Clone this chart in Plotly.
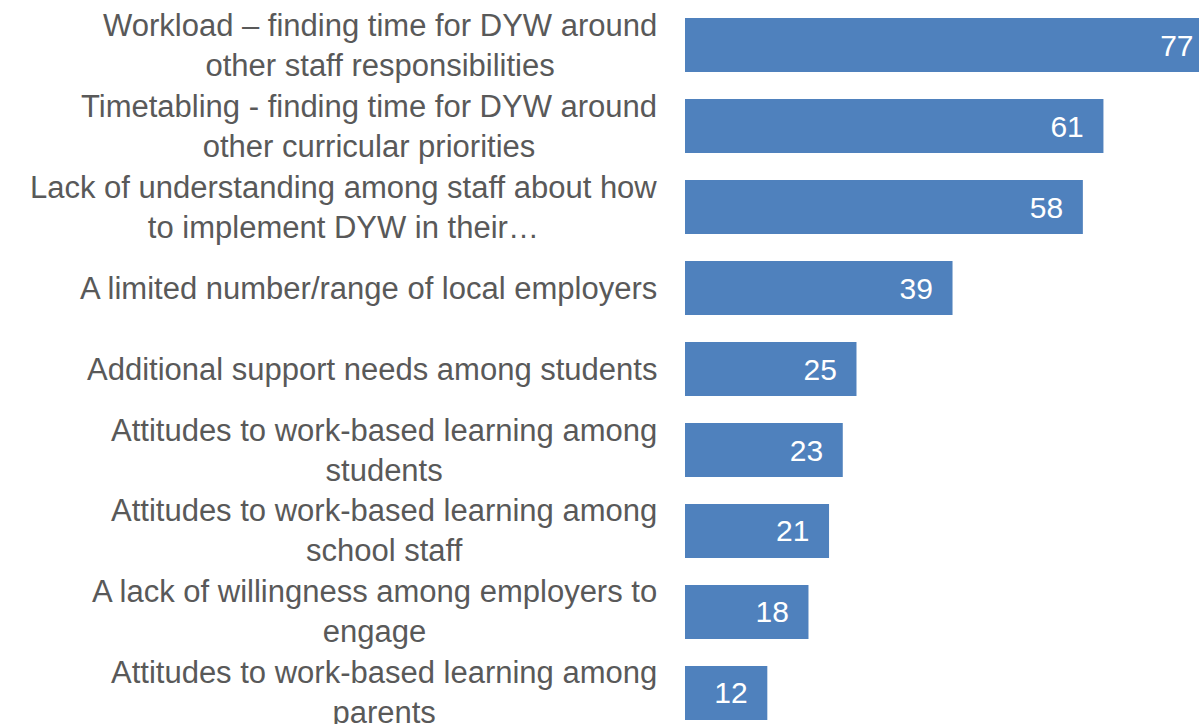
import plotly.graph_objects as go

# Barriers to delivering DYW, ranked by number of responses
categories = [
    "Workload – finding time for DYW around<br>other staff responsibilities",
    "Timetabling - finding time for DYW around<br>other curricular priorities",
    "Lack of understanding among staff about how<br>to implement DYW in their…",
    "A limited number/range of local employers",
    "Additional support needs among students",
    "Attitudes to work-based learning among<br>students",
    "Attitudes to work-based learning among<br>school staff",
    "A lack of willingness among employers to<br>engage",
    "Attitudes to work-based learning among<br>parents",
]
values = [77, 61, 58, 39, 25, 23, 21, 18, 12]

BAR_COLOR = "#4F81BD"
LABEL_COLOR = "#595959"
FONT = "Liberation Sans, Arial, sans-serif"

fig = go.Figure()
fig.add_trace(
    go.Bar(
        x=values,
        y=categories,
        orientation="h",
        marker=dict(color=BAR_COLOR, line=dict(width=0)),
        # value labels just inside the end of each bar
        text=[f"{v}\u00a0\u00a0" for v in values],
        textposition="inside",
        insidetextanchor="end",
        textangle=0,
        insidetextfont=dict(color="white", size=30, family=FONT),
        constraintext="none",
        hoverinfo="skip",
    )
)

# category labels: block right-aligned beside the bars, lines centred
for cat in categories:
    fig.add_annotation(
        x=0,
        xref="paper",
        y=cat,
        yref="y",
        text=cat,
        showarrow=False,
        xanchor="right",
        yanchor="middle",
        align="center",
        xshift=-26,
        font=dict(family=FONT, size=31, color=LABEL_COLOR),
    )

n = len(categories)
fig.update_layout(
    width=1199,
    height=724,
    margin=dict(l=685, r=0, t=0, b=0, pad=0),
    paper_bgcolor="white",
    plot_bgcolor="white",
    bargap=0.333,
    showlegend=False,
    font=dict(family=FONT, size=30, color=LABEL_COLOR),
)
fig.update_xaxes(
    visible=False,
    range=[0, 74.93],
    fixedrange=True,
)
fig.update_yaxes(
    type="category",
    range=[n - 1 + 0.383, -0.556],
    showgrid=False,
    zeroline=False,
    showline=False,
    showticklabels=False,
    ticks="",
    automargin=False,
    fixedrange=True,
)

fig.write_html("out.html", config={"displayModeBar": False})
